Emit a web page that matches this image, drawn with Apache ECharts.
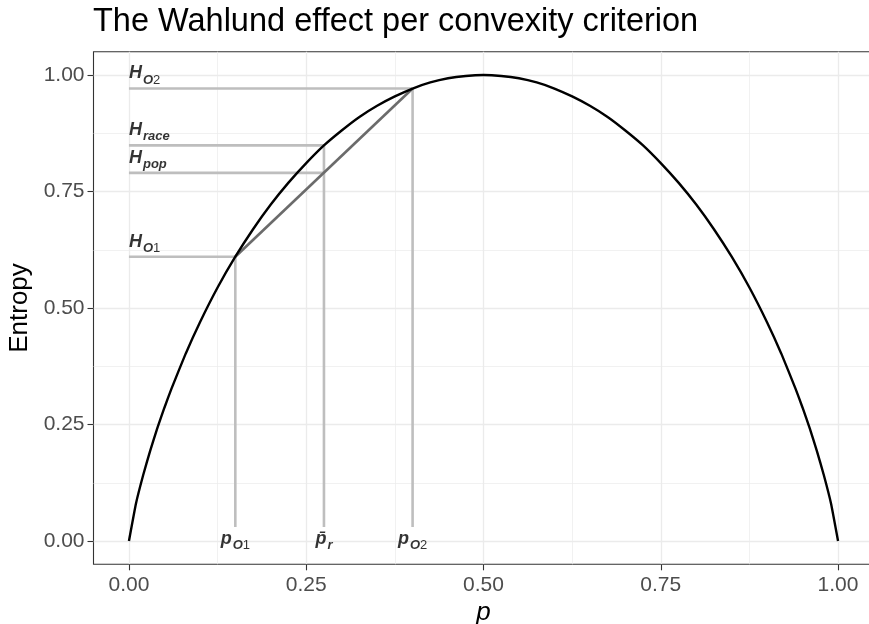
<!DOCTYPE html>
<html>
<head>
<meta charset="utf-8">
<script src="https://cdn.jsdelivr.net/npm/echarts@6/dist/echarts.min.js"></script>
<style>
  html, body { margin: 0; padding: 0; background: #fff; }
  #main { width: 869px; height: 624px; }
</style>
</head>
<body>
<div id="main"></div>
<script>
// binary entropy curve
const pGrid = [0, 0.01, 0.02, 0.03, 0.04, 0.05, 0.06, 0.08, 0.1, 0.125, 0.15, 0.175, 0.2, 0.225, 0.25, 0.275, 0.3, 0.325, 0.35, 0.375, 0.4, 0.425, 0.45, 0.475, 0.5,
               0.525, 0.55, 0.575, 0.6, 0.625, 0.65, 0.675, 0.7, 0.725, 0.75, 0.775, 0.8, 0.825, 0.85, 0.875, 0.9, 0.92, 0.94, 0.95, 0.96, 0.97, 0.98, 0.99, 1];
const entropy = [0, 0.081, 0.141, 0.194, 0.242, 0.286, 0.327, 0.402, 0.469, 0.544, 0.610, 0.669, 0.722, 0.769, 0.811, 0.849, 0.881, 0.910, 0.934, 0.954, 0.971, 0.984, 0.993, 0.998, 1.0,
                 0.998, 0.993, 0.984, 0.971, 0.954, 0.934, 0.910, 0.881, 0.849, 0.811, 0.769, 0.722, 0.669, 0.610, 0.544, 0.469, 0.402, 0.327, 0.286, 0.242, 0.194, 0.141, 0.081, 0];

// horizontal guides: level and where it meets the curve / chord
const levelNames = ['H_O2', 'H_race', 'H_pop', 'H_O1'];
const levelValues = [0.971, 0.849, 0.790, 0.610];
const levelEnds = [0.4, 0.275, 0.275, 0.15];

// vertical guides
const pointNames = ['p_O1', 'pbar_r', 'p_O2'];
const pointValues = [0.15, 0.275, 0.4];
const pointTops = [0.610, 0.849, 0.971];
const guideFloor = 0.03;

// chord between the two subpopulations
const chordP = [0.15, 0.4];
const chordH = [0.610, 0.971];

const xTicks = [0, 0.25, 0.5, 0.75, 1];
const yTicks = [0, 0.25, 0.5, 0.75, 1];
const minorTicks = [0.125, 0.375, 0.625, 0.875];

const FONT = '"Liberation Sans", Arial, "DejaVu Sans", sans-serif';

const richText = {
    'H_race': '{H|H}{s|race}',
    'H_pop': '{H|H}{s|pop}',
    'H_O1': '{H|H}{o|O}{d|1}',
    'H_O2': '{H|H}{o|O}{d|2}',
    'p_O1': '{P|p}{o|O}{d|1}',
    'pbar_r': '{P|p\u0304}{s|r}',
    'p_O2': '{P|p}{o|O}{d|2}'
};
const rich = {
    H: {fontSize: 18, fontWeight: 'bold', fontStyle: 'italic', color: '#000', fontFamily: FONT, padding: [0, 1, 4, 0], verticalAlign: 'bottom'},
    P: {fontSize: 18, fontWeight: 'bold', fontStyle: 'italic', color: '#000', fontFamily: FONT, padding: [0, 1, 4, 0], verticalAlign: 'bottom'},
    s: {fontSize: 13, fontWeight: 'bold', fontStyle: 'italic', color: '#000', fontFamily: FONT, verticalAlign: 'bottom'},
    o: {fontSize: 13, fontWeight: 'bold', fontStyle: 'italic', color: '#000', fontFamily: FONT, verticalAlign: 'bottom'},
    d: {fontSize: 13, color: '#000', fontFamily: FONT, verticalAlign: 'bottom'}
};

function segment(a, b, color, z) {
    return {
        type: 'line', data: [a, b], showSymbol: false, silent: true, z: z,
        lineStyle: {color: color, width: 2.6}
    };
}

let series = [];
levelValues.forEach(function(h, i) {
    series.push(segment([0, h], [levelEnds[i], h], '#bebebe', 2));
});
pointValues.forEach(function(p, i) {
    series.push(segment([p, pointTops[i]], [p, guideFloor], '#bebebe', 2));
});
series.push(segment([chordP[0], chordH[0]], [chordP[1], chordH[1]], '#6b6b6b', 3));

series.push({
    type: 'line', z: 4, showSymbol: false, silent: true, smooth: 0.15,
    data: pGrid.map(function(p, i) { return [p, entropy[i]]; }),
    lineStyle: {color: '#000', width: 2.4}
});

series.push({
    type: 'scatter', z: 5, symbolSize: 0, silent: true,
    data: levelValues.map(function(h, i) { return {value: [0, h], name: levelNames[i]}; }),
    label: {
        show: true, position: [0, 0], align: 'left', verticalAlign: 'bottom', offset: [0, -2],
        formatter: function(d) { return richText[d.name]; }, rich: rich
    }
});
series.push({
    type: 'scatter', z: 5, symbolSize: 0, silent: true,
    data: pointValues.map(function(p, i) { return {value: [p, 0], name: pointNames[i]}; }),
    label: {
        show: true, position: [0, 0], align: 'center', verticalAlign: 'middle', offset: [0, 0],
        formatter: function(d) { return richText[d.name]; }, rich: rich
    }
});

function mainAxis(ticks, isX) {
    return {
        type: 'value', min: -0.05, max: 1.05,
        axisLine: {show: false, onZero: false},
        axisTick: {show: true, length: 6, customValues: ticks, lineStyle: {color: '#333', width: 1.1}},
        axisLabel: {
            customValues: ticks, fontSize: 21, color: '#4d4d4d', fontFamily: FONT,
            margin: isX ? 10 : 9,
            formatter: function(v) { return v.toFixed(2); }
        },
        splitLine: {show: true, lineStyle: {color: '#ebebeb', width: 1.3}},
        name: isX ? 'p' : 'Entropy',
        nameLocation: 'middle',
        nameGap: isX ? 27 : 60,
        nameTextStyle: {fontSize: 26, color: '#000', fontFamily: FONT, fontStyle: isX ? 'italic' : 'normal'}
    };
}
function minorAxis() {
    return {
        type: 'value', min: -0.05, max: 1.05,
        axisLine: {show: false, onZero: false},
        axisTick: {show: false, customValues: minorTicks},
        axisLabel: {show: false, customValues: minorTicks},
        splitLine: {show: true, lineStyle: {color: '#ebebeb', width: 0.7}}
    };
}

const myChart = echarts.init(document.getElementById('main'), null, {renderer: 'canvas'});
myChart.setOption({
    animation: false,
    backgroundColor: '#fff',
    title: {
        text: 'The Wahlund effect per convexity criterion',
        left: 88, top: 1,
        textStyle: {fontSize: 32.5, fontWeight: 'normal', color: '#000', fontFamily: FONT}
    },
    grid: {
        left: 93.5, top: 51.7, width: 780, height: 512.6,
        outerBoundsMode: 'none', containLabel: false,
        show: true, borderColor: '#333', borderWidth: 1.1, backgroundColor: '#fff'
    },
    xAxis: [mainAxis(xTicks, true), minorAxis()],
    yAxis: [mainAxis(yTicks, false), minorAxis()],
    series: series
});
</script>
</body>
</html>
